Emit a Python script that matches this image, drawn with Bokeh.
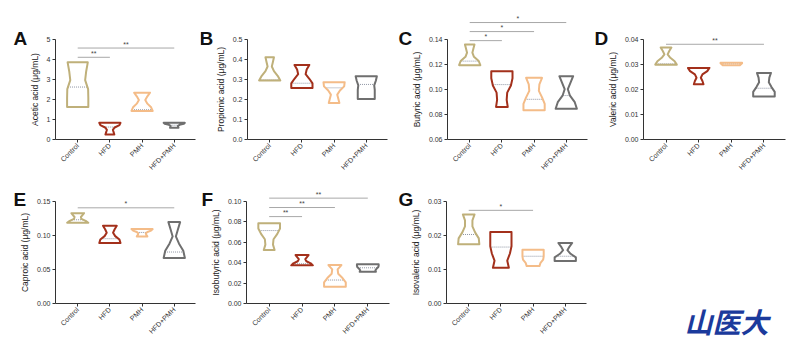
import math
import numpy as np
from bokeh.plotting import figure
from bokeh.layouts import row, column
from bokeh.models import FixedTicker, PrintfTickFormatter
from bokeh.embed import file_html
from bokeh.resources import INLINE
from bokeh.core.properties import value

groups = ["Control", "HFD", "PMH", "HFD+PMH"]
colors = ["#BFB07A", "#A3301B", "#F4BC88", "#6F6F6F"]
levels = [0.0, 0.2, 0.4, 0.6, 0.8, 1.0]   # relative heights of the width profile

# ---- A: acetic acid ----
acetic_lo = [1.62, 0.25, 1.42, 0.58]
acetic_hi = [3.84, 0.83, 2.33, 0.83]
acetic_med = [2.61, 0.62, 1.48, 0.71]
acetic_shape = [[1.0, 1.0, 0.98, 0.7, 0.8, 0.95],
                [0.42, 0.35, 0.28, 0.45, 0.9, 1.0],
                [1.0, 0.85, 0.5, 0.3, 0.5, 0.75],
                [0.4, 0.35, 0.35, 0.5, 0.9, 1.0]]
acetic_sig = [(1, 2, 4.09, "**"), (1, 4, 4.55, "**")]
acetic_ticks = [0, 1, 2, 3, 4, 5]

# ---- B: propionic acid ----
propionic_lo = [0.294, 0.256, 0.182, 0.201]
propionic_hi = [0.409, 0.371, 0.285, 0.315]
propionic_med = [0.297, 0.280, 0.257, 0.274]
propionic_shape = [[1.0, 0.75, 0.4, 0.2, 0.3, 0.4],
                   [1.0, 1.0, 0.7, 0.35, 0.45, 0.7],
                   [0.5, 0.4, 0.3, 0.55, 0.95, 1.0],
                   [0.8, 0.8, 0.8, 0.75, 0.9, 1.0]]
propionic_sig = []
propionic_ticks = [0.0, 0.1, 0.2, 0.3, 0.4, 0.5]

# ---- C: butyric acid ----
butyric_lo = [0.1192, 0.0859, 0.0832, 0.0845]
butyric_hi = [0.1357, 0.1144, 0.1091, 0.1104]
butyric_med = [0.1224, 0.1037, 0.0920, 0.0950]
butyric_shape = [[1.0, 0.85, 0.4, 0.25, 0.35, 0.45],
                 [0.55, 0.45, 0.5, 0.85, 1.0, 1.0],
                 [1.0, 1.0, 0.75, 0.45, 0.5, 0.75],
                 [1.0, 0.8, 0.35, 0.15, 0.4, 0.65]]
butyric_sig = [(1, 2, 0.1387, "*"), (1, 3, 0.1459, "*"), (1, 4, 0.1531, "*")]
butyric_ticks = [0.06, 0.08, 0.10, 0.12, 0.14]

# ---- D: valeric acid ----
valeric_lo = [0.0298, 0.0220, 0.0296, 0.0171]
valeric_hi = [0.0366, 0.0285, 0.0305, 0.0265]
valeric_med = [0.0301, 0.0283, 0.0301, 0.0204]
valeric_shape = [[1.0, 0.8, 0.4, 0.15, 0.3, 0.5],
                 [0.45, 0.35, 0.2, 0.35, 0.8, 1.0],
                 [0.8, 0.85, 0.9, 0.95, 1.0, 1.0],
                 [1.0, 1.0, 0.7, 0.45, 0.5, 0.65]]
valeric_sig = [(1, 4, 0.0379, "**")]
valeric_ticks = [0.00, 0.01, 0.02, 0.03, 0.04]

# ---- E: caproic acid ----
caproic_lo = [0.1187, 0.0889, 0.0987, 0.0669]
caproic_hi = [0.1329, 0.1143, 0.1094, 0.1197]
caproic_med = [0.1231, 0.0953, 0.1045, 0.0757]
caproic_shape = [[1.0, 0.75, 0.35, 0.3, 0.45, 0.6],
                 [1.0, 0.9, 0.5, 0.3, 0.45, 0.65],
                 [0.5, 0.4, 0.35, 0.5, 0.85, 1.0],
                 [1.0, 0.85, 0.45, 0.15, 0.35, 0.55]]
caproic_sig = [(1, 4, 0.1407, "*")]
caproic_ticks = [0.00, 0.05, 0.10, 0.15]

# ---- F: isobutyric acid ----
isobutyric_lo = [0.0525, 0.0374, 0.0164, 0.0311]
isobutyric_hi = [0.0787, 0.0475, 0.0377, 0.0384]
isobutyric_med = [0.0715, 0.0390, 0.0230, 0.0350]
isobutyric_shape = [[0.5, 0.35, 0.4, 0.75, 1.0, 1.0],
                    [1.0, 0.8, 0.4, 0.3, 0.45, 0.6],
                    [1.0, 1.0, 0.7, 0.3, 0.25, 0.6],
                    [0.75, 0.7, 0.8, 0.95, 1.0, 1.0]]
isobutyric_sig = [(1, 2, 0.0852, "**"), (1, 3, 0.0941, "**"), (1, 4, 0.1033, "**")]
isobutyric_ticks = [0.00, 0.02, 0.04, 0.06, 0.08, 0.10]

# ---- G: isovaleric acid ----
isovaleric_lo = [0.0174, 0.0105, 0.0110, 0.0125]
isovaleric_hi = [0.0262, 0.0210, 0.0158, 0.0178]
isovaleric_med = [0.0203, 0.0166, 0.0139, 0.0139]
isovaleric_shape = [[1.0, 0.95, 0.6, 0.35, 0.35, 0.55],
                    [0.75, 0.6, 0.85, 1.0, 1.0, 1.0],
                    [0.6, 0.7, 0.95, 1.0, 1.0, 1.0],
                    [1.0, 1.0, 0.5, 0.2, 0.4, 0.65]]
isovaleric_sig = [(1, 3, 0.0274, "*")]
isovaleric_ticks = [0.00, 0.01, 0.02, 0.03]

FONT = "Liberation Sans"
HALF = 0.33
XA = (0.31, 4.66)   # extent of the drawn category axis


def make_panel(letter, ylabel, ticks, fmt, lo, hi, med, shape, sig,
               W, H, L, R, T, B, tick_span_px, letter_dx, letter_dy):
    ymin, ymaxt = ticks[0], ticks[-1]
    axis_w = W - L - R
    y_per_px = (ymaxt - ymin) / tick_span_px
    x_per_px = (XA[1] - XA[0]) / axis_w
    x0 = XA[0] - L * x_per_px
    x1 = x0 + W * x_per_px
    y0 = ymin - B * y_per_px
    y1 = y0 + H * y_per_px
    p = figure(width=W, height=H, x_range=(x0, x1), y_range=(y0, y1),
               output_backend="svg", toolbar_location=None, min_border=0)
    p.outline_line_color = None
    p.xgrid.visible = False
    p.ygrid.visible = False
    p.background_fill_color = "white"
    p.border_fill_color = "white"

    xs, ys = [], []
    mx0, mx1, my = [], [], []
    for i in range(4):
        c = i + 1
        yv = [lo[i] + f * (hi[i] - lo[i]) for f in levels]
        wv = [HALF * s for s in shape[i]]
        xs.append([c + w for w in wv] + [c - w for w in wv[::-1]])
        ys.append(yv + yv[::-1])
        wm = float(np.interp(med[i], yv, wv))
        mx0.append(c - wm)
        mx1.append(c + wm)
        my.append(med[i])
    p.segment(x0=mx0, x1=mx1, y0=my, y1=my, line_color="#8F95A3",
              line_width=1, line_dash="1 1")
    p.patches(xs, ys, fill_color=None, line_color=colors, line_width=2,
              line_join="round")

    for (g0, g1, yl, st) in sig:
        p.segment(x0=[g0], x1=[g1], y0=[yl], y1=[yl], line_color="#A8A8A8",
                  line_width=1)
        p.text(x=[(g0 + g1) / 2], y=[yl], text=[st], text_align="center",
               text_baseline="middle", y_offset=-4, text_font_size="7px",
               text_color="#444444", text_font=value(FONT))

    # panel letter
    p.text(x=[XA[0] + letter_dx * x_per_px], y=[ymin + letter_dy * y_per_px],
           text=[letter], text_font=value(FONT), text_font_size="19px",
           text_font_style="bold", text_color="#111111",
           text_baseline="alphabetic", text_align="left")

    xa, ya = p.xaxis[0], p.yaxis[0]
    xa.fixed_location = ymin
    ya.fixed_location = XA[0]
    xa.bounds = XA
    ya.bounds = (ymin, ymaxt)
    xa.ticker = FixedTicker(ticks=[1, 2, 3, 4])
    xa.major_label_overrides = {1: groups[0], 2: groups[1], 3: groups[2], 4: groups[3]}
    xa.major_label_orientation = math.pi / 4
    ya.ticker = FixedTicker(ticks=ticks)
    ya.formatter = PrintfTickFormatter(format=fmt)
    ya.axis_label = ylabel
    ya.axis_label_text_font = FONT
    ya.axis_label_text_font_size = "8.5px"
    ya.axis_label_text_font_style = "normal"
    ya.axis_label_text_color = "#222222"
    ya.axis_label_standoff = 4
    for ax in (xa, ya):
        ax.axis_line_color = "#333333"
        ax.major_tick_line_color = "#333333"
        ax.minor_tick_line_color = None
        ax.major_tick_in = 0
        ax.major_tick_out = 3
        ax.major_label_text_font = FONT
        ax.major_label_text_font_size = "7px"
        ax.major_label_text_color = "#333333"
        ax.major_label_standoff = 2
    return p


TOP = dict(H=178, T=15, B=39, tick_span_px=100.5, letter_dy=101)
BOT = dict(H=170, T=8, B=45, tick_span_px=102, letter_dy=104)

pA = make_panel("A", "Acetic acid (μg/mL)", acetic_ticks, "%d", acetic_lo, acetic_hi,
                acetic_med, acetic_shape, acetic_sig, W=200, L=55, R=5, letter_dx=-42, **TOP)
pB = make_panel("B", "Propionic acid (μg/mL)", propionic_ticks, "%.1f", propionic_lo, propionic_hi,
                propionic_med, propionic_shape, propionic_sig, W=195, L=47, R=8, letter_dx=-48, **TOP)
pC = make_panel("C", "Butyric acid (μg/mL)", butyric_ticks, "%.2f", butyric_lo, butyric_hi,
                butyric_med, butyric_shape, butyric_sig, W=197, L=52, R=5, letter_dx=-49, **TOP)
pD = make_panel("D", "Valeric acid (μg/mL)", valeric_ticks, "%.2f", valeric_lo, valeric_hi,
                valeric_med, valeric_shape, valeric_sig, W=200, L=51, R=7, letter_dx=-49, **TOP)
pE = make_panel("E", "Caproic acid (μg/mL)", caproic_ticks, "%.2f", caproic_lo, caproic_hi,
                caproic_med, caproic_shape, caproic_sig, W=200, L=55, R=5, letter_dx=-42, **BOT)
pF = make_panel("F", "Isobutyric acid (μg/mL)", isobutyric_ticks, "%.2f", isobutyric_lo, isobutyric_hi,
                isobutyric_med, isobutyric_shape, isobutyric_sig, W=195, L=46, R=6, letter_dx=-45, **BOT)
pG = make_panel("G", "Isovaleric acid (μg/mL)", isovaleric_ticks, "%.2f", isovaleric_lo, isovaleric_hi,
                isovaleric_med, isovaleric_shape, isovaleric_sig, W=197, L=51, R=6, letter_dx=-48, **BOT)

# logo slot
logo_text = ["山医大"]
pL = figure(width=200, height=170, output_backend="svg", toolbar_location=None,
            x_range=(0, 200), y_range=(0, 170), min_border=0,
            x_axis_location=None, y_axis_location=None)
pL.grid.visible = False
pL.outline_line_color = None
pL.text(x=[92], y=[28], text=logo_text, text_font=value("Noto Sans CJK SC"),
        text_font_size="28px", text_font_style="bold italic", text_color="#1B3A9C",
        text_baseline="alphabetic", text_align="left")

layout = column(row(pA, pB, pC, pD), row(pE, pF, pG, pL))
open("out.html", "w").write(file_html(layout, INLINE))
